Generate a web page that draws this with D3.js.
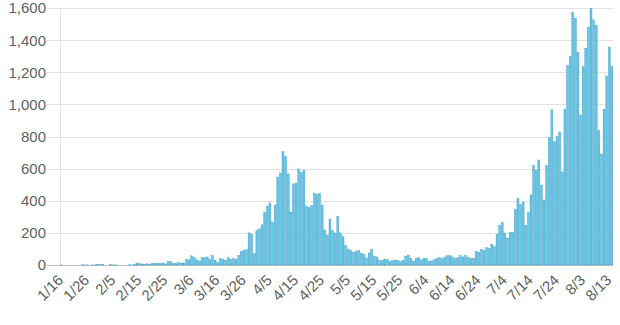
<!DOCTYPE html>
<meta charset="utf-8">
<script src="https://cdnjs.cloudflare.com/ajax/libs/d3/7.8.5/d3.min.js"></script>
<style>
body { margin: 0; background: #fff; }
text { font-family: "Liberation Sans", Arial, sans-serif; }
</style>
<body>
<script>

// daily counts, month by month (1/16 - 8/14)
var jan = [1,0,0,0,0,0,0,0,1,1,1,0,1,1,3,2];
var feb = [3,0,0,2,1,1,0,0,0,0,1,1,4,8,10,6,6,7,3,12,8,12,10,12,7,20,22,10,10];
var mar = [14,13,12,33,33,57,46,32,26,45,45,50,35,60,30,15,40,35,30,45,35,40,35,60,85,90,95,200,190,70,215];
var apr = [225,250,330,367,386,268,374,548,573,705,675,567,330,505,510,598,575,590,367,357,370,448,440,445,373,218,187,286,215,199];
var may = [301,200,176,120,100,90,80,85,90,73,65,44,75,98,52,50,27,27,35,36,21,28,30,28,20,30,56,62,42,25,40];
var jun = [45,32,42,40,22,26,33,40,45,40,50,58,58,50,40,45,60,50,58,45,40,42,85,80,98,90,108,102,129,115];
var jul = [191,245,266,198,168,201,203,347,415,378,392,247,326,436,620,588,654,498,405,620,792,966,768,800,828,580,970,1242,1298,1574,1537];
var aug = [1325,934,1235,1350,1481,1599,1526,1491,837,691,970,1177,1356,1235];

var yTicks = [0,200,400,600,800,1000,1200,1400,1600];
var xTickLabels = ["1/16","1/26","2/5","2/15","2/25","3/6","3/16","3/26","4/5","4/15","4/25",
  "5/5","5/15","5/25","6/4","6/14","6/24","7/4","7/14","7/24","8/3","8/13"];

var values = [].concat(jan, feb, mar, apr, may, jun, jul, aug);
var fmt = d3.timeFormat("%-m/%-d");
var days = d3.timeDay.range(new Date(2020,0,16), new Date(2020,0,16 + values.length));
var data = days.map(function(d, i) { return {day: fmt(d), value: values[i]}; });

var width = 620, height = 325;

var svg = d3.select("body").append("svg")
    .attr("width", width)
    .attr("height", height);

var x = d3.scaleBand()
  .domain(data.map(function(d) { return d.day; }))
  .range([60, 613])
  .paddingInner(0.25)
  .paddingOuter(0.05);

var y = d3.scaleLinear()
  .domain([0, 1600])
  .range([265, 8]);

// grid lines
svg.append("g").selectAll("line")
  .data(yTicks).enter().append("line")
    .attr("x1", 47).attr("x2", 613)
    .attr("y1", function(d) { return Math.round(y(d)) + 0.5; })
    .attr("y2", function(d) { return Math.round(y(d)) + 0.5; })
    .style("stroke", function(d) { return d == 0 ? "#bdbdbd" : "#e2e2e2"; })
    .style("stroke-width", 1);

svg.append("line")
  .attr("x1", 60.5).attr("x2", 60.5)
  .attr("y1", 8).attr("y2", 265)
  .style("stroke", "#e2e2e2");

// y labels
svg.append("g").selectAll("text")
  .data(yTicks).enter().append("text")
    .attr("x", 46)
    .attr("y", function(d) { return y(d); })
    .attr("dy", "0.36em")
    .style("text-anchor", "end")
    .style("font-size", "15px")
    .style("fill", "#606060")
    .text(d3.format(","));

// bars
svg.append("g").selectAll("rect")
  .data(data).enter().append("rect")
    .attr("x", function(d) { return x(d.day); })
    .attr("y", function(d) { return y(d.value); })
    .attr("width", x.bandwidth())
    .attr("height", function(d) { return y(0) - y(d.value); })
    .style("fill", "#68c6e5")
    .style("stroke", "#3a9cc6")
    .style("stroke-width", 0.4);

// x labels
svg.append("g").selectAll("text")
  .data(xTickLabels).enter().append("text")
    .attr("transform", function(d) {
      return "translate(" + (x(d) + x.bandwidth() / 2 + 3) + ",281) rotate(-45)";
    })
    .style("text-anchor", "end")
    .style("font-size", "15px")
    .style("fill", "#606060")
    .text(function(d) { return d; });

</script>
</body>
